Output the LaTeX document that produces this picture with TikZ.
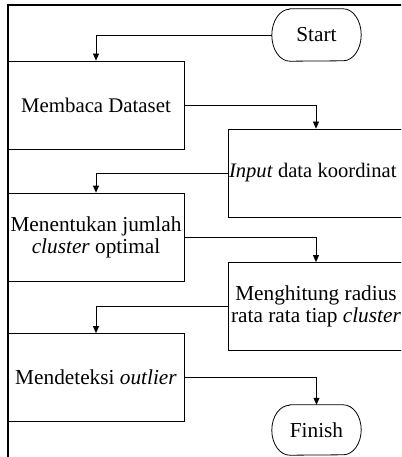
\documentclass[tikz,border=0pt]{standalone}
\usepackage{fontspec}
\setmainfont{Liberation Serif}
\usetikzlibrary{arrows.meta}
\begin{document}
\begin{tikzpicture}[x=1pt,y=1pt,
 box/.style={draw=black, line width=0.8pt, minimum width=176pt, minimum height=88pt, inner sep=0pt, align=center, font=\fontsize{21.3}{22}\selectfont},
 term/.style={minimum width=89pt, inner sep=0pt, font=\fontsize{21.3}{22}\selectfont},
 arr/.style={draw=black, line width=0.8pt, -{Triangle[length=7pt,width=6pt]}},
 edgeline/.style={draw=black, line width=0.8pt}]
\useasboundingbox (0,0) rectangle (401,-457);
\clip (0,0) rectangle (401,-457);
\draw[line width=2pt] (7.5,-470) -- (7.5,-5.5) -- (420,-5.5);
\node[term, minimum height=52pt] (start) at (316.5,-35) {Start};
\node[box, font=\fontsize{20.8}{22}\selectfont] (b1) at (96,-105) {Membaca Dataset};
\node[box, font=\fontsize{20.6}{22}\selectfont, inner xsep=1pt] (b2) at (316,-173) {\makebox[174pt][l]{\textit{Input} data koordinat}};
\node[box] (b3) at (96,-237) {Menentukan jumlah\\\textit{cluster} optimal};
\node[box] (b4) at (316,-306.5) {Menghitung radius\\rata rata tiap \textit{cluster}};
\node[box] (b5) at (96,-377.5) {Mendeteksi \textit{outlier}};
\node[term, minimum height=50pt] (finish) at (316.5,-430) {Finish};
\draw[edgeline] ([xshift=18pt]start.north west) -- ([xshift=-18pt]start.north east)
  arc[start angle=90,end angle=-90,x radius=18pt,y radius=26pt]
  -- ([xshift=18pt]start.south west)
  arc[start angle=270,end angle=90,x radius=18pt,y radius=26pt] -- cycle;
\draw[edgeline] ([xshift=18pt]finish.north west) -- ([xshift=-18pt]finish.north east)
  arc[start angle=90,end angle=-90,x radius=18pt,y radius=25pt]
  -- ([xshift=18pt]finish.south west)
  arc[start angle=270,end angle=90,x radius=18pt,y radius=25pt] -- cycle;
\draw[arr] (start.west) -| (b1.north);
\draw[arr] (b1.east) -| (b2.north);
\draw[arr] (b2.west) -| (b3.north);
\draw[arr] (b3.east) -| (b4.north);
\draw[arr] (b4.west) -| (b5.north);
\draw[arr] (b5.east) -| (finish.north);
\end{tikzpicture}
\end{document}
